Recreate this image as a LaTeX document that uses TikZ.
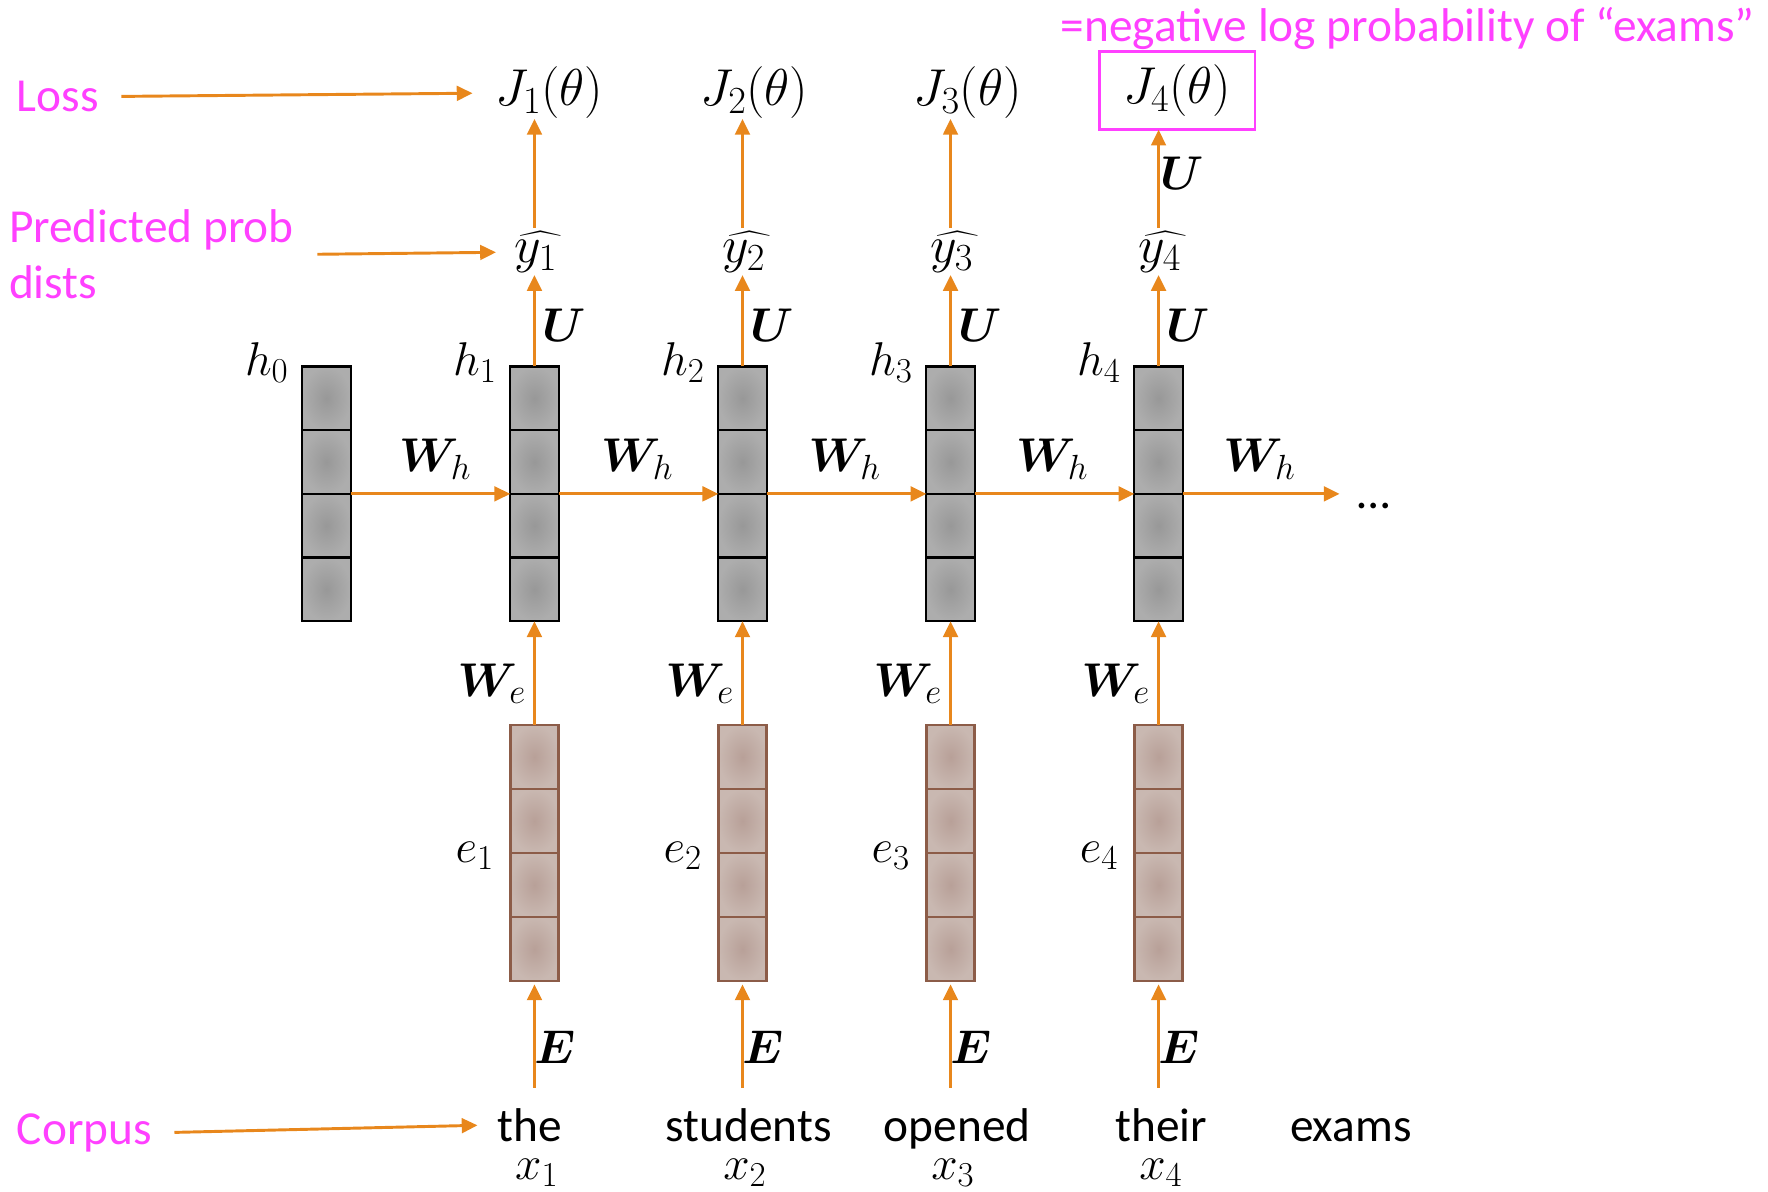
\RequirePackage{fix-cm}
\documentclass[tikz,border=0pt]{standalone}
\usepackage{amsmath}
\usepackage{bm}
\usepackage[no-math]{fontspec}
\setmainfont{Carlito}
\usetikzlibrary{arrows.meta}
\DeclareMathSizes{42}{42}{31}{23}
\DeclareMathSizes{46}{46}{34}{25}
\definecolor{org}{RGB}{232,135,28}
\definecolor{pnk}{RGB}{255,64,255}
\definecolor{hin}{RGB}{152,152,152}
\definecolor{hout}{RGB}{173,173,173}
\definecolor{ein}{RGB}{184,160,152}
\definecolor{eout}{RGB}{201,184,177}
\definecolor{ebrd}{RGB}{140,92,72}
\begin{document}
\begin{tikzpicture}[x=1pt,y=-1pt,
  every node/.style={font=\fontsize{42}{50}\selectfont, inner sep=0pt, outer sep=0pt},
  arr/.style={draw=org, line width=2.6pt, -{Triangle[length=14pt,width=13pt]}},
  lbl/.style={anchor=base},
  jlbl/.style={anchor=base, font=\fontsize{46}{50}\selectfont},
  plbl/.style={anchor=base west, text=pnk},
  hcol/.style={minimum width=43pt, minimum height=226pt, draw=black, line width=2pt},
  ecol/.style={minimum width=43pt, minimum height=227pt, draw=ebrd, line width=2.4pt}]
\useasboundingbox (0,0) rectangle (1568,1057);

% hidden state columns
\foreach \i/\x in {0/289.5,1/474,2/658.5,3/843,4/1027.5}{
  \foreach \k in {0,1,2,3}{
    \shade[inner color=hin, outer color=hout] (\x-21.5,325+56.5*\k) rectangle ++(43,56.5);
  }
  \foreach \yy in {381.5,438,494.5}{
    \draw[line width=2pt] (\x-21.5,\yy) -- (\x+21.5,\yy);
  }
  \node[hcol] (h\i) at (\x,438) {};
  \node[lbl] at (\x-53,333) {$h_{\i}$};
}

% embedding columns and outputs
\foreach \i/\x in {1/474,2/658.5,3/843,4/1027.5}{
  \foreach \k in {0,1,2,3}{
    \shade[inner color=ein, outer color=eout] (\x-21.5,643+56.75*\k) rectangle ++(43,56.75);
  }
  \foreach \yy in {699.75,756.5,813.25}{
    \draw[ebrd, line width=2.4pt] (\x-21.5,\yy) -- (\x+21.5,\yy);
  }
  \node[ecol] (e\i) at (\x,756.5) {};
  \node[lbl] at (\x-53,765) {$e_{\i}$};
  \draw[arr] (e\i.north) -- (h\i.south);
  \node[lbl] at (\x-38,618) {$\bm{W}_{e}$};
  \node[jlbl] (yh\i) at (\x+6,233) {$\widehat{y_{\i}\mkern4mu}$};
  \draw[arr, shorten >=2pt] (h\i.north) -- (h\i.north |- yh\i.south);
  \node[lbl] at (\x+26,303) {$\bm{U}$};
  \node[lbl] at (\x+18,943) {$\bm{E}$};
  \node[lbl] (x\i) at (\x+2,1046) {$x_{\i}$};
}

% losses
\node[jlbl] (J1) at (487,94) {$J_1(\theta)$};
\node[jlbl] (J2) at (669,94) {$J_2(\theta)$};
\node[jlbl] (J3) at (858,94) {$J_3(\theta)$};
\node[draw=pnk, line width=2.5pt, minimum width=138pt, minimum height=69pt, font=\fontsize{46}{50}\selectfont] (J4) at (1044,80.5) {$J_4(\theta)$};
\foreach \i/\x in {1/474,2/658.5,3/843,4/1027.5}{
  \draw[arr, shorten <=3pt] (\x,0 |- yh\i.north) -- (\x,0 |- J\i.south);
}
\node[lbl] at (1048,168) {$\bm{U}$};
\node[anchor=base, text=pnk] (note) at (1248.5,37) {=negative log probability of “exams”};

% recurrent arrows
\coordinate (hend) at (1188,438);
\draw[arr] (h0.east) -- (h1.west);
\draw[arr] (h1.east) -- (h2.west);
\draw[arr] (h2.east) -- (h3.west);
\draw[arr] (h3.east) -- (h4.west);
\draw[arr] (h4.east) -- (hend);
\node[lbl] (dots) at (1218,451) {…};
\foreach \xx in {386,565,749,933,1117}{
  \node[lbl] at (\xx,418) {$\bm{W}_{h}$};
}

% words
\node[lbl] (w1) at (470,1012) {the};
\node[lbl] (w2) at (664,1012) {students};
\node[lbl] (w3) at (849,1012) {opened};
\node[lbl] (w4) at (1030,1012) {their};
\node[lbl] (w5) at (1198,1012) {exams};
\foreach \i in {1,2,3,4}{
  \draw[arr, shorten <=18pt, shorten >=3pt] (w\i.north -| e\i.south) -- (e\i.south);
}

% left annotations
\node[plbl] (loss) at (15,99) {Loss};
\draw[arr, shorten <=20pt, shorten >=20pt] (loss.east) -- (J1.west);
\node[anchor=north west, align=left, text=pnk] (pred) at (8,186) {Predicted prob\\dists};
\draw[arr, shorten <=21pt, shorten >=16pt] (pred.east) -- (yh1.west);
\node[plbl] (corpus) at (15,1015) {Corpus};
\draw[arr, shorten <=20pt, shorten >=18pt] (corpus.east) -- (w1.west);
\end{tikzpicture}
\end{document}
